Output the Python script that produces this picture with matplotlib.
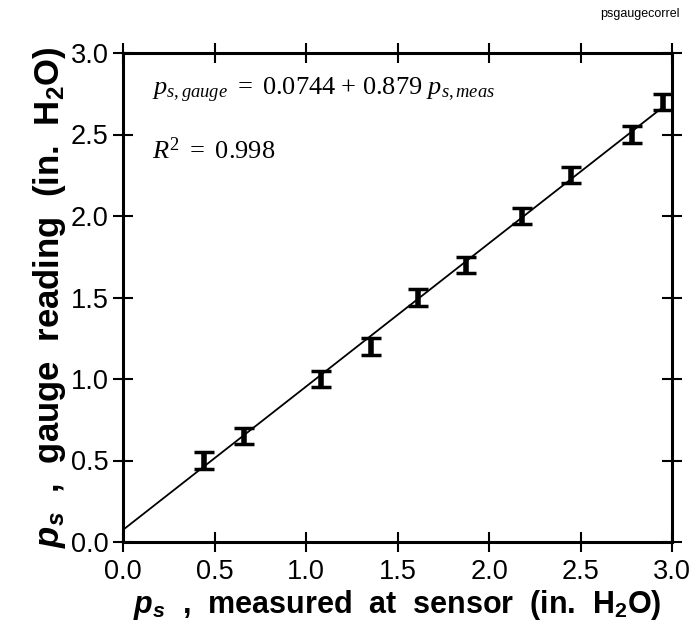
import matplotlib
matplotlib.use("Agg")
import matplotlib.pyplot as plt
import numpy as np

# Data
p_meas = [0.44, 0.66, 1.08, 1.355, 1.61, 1.875, 2.18, 2.45, 2.78, 2.95]
p_gauge = [0.50, 0.65, 1.00, 1.20, 1.50, 1.70, 2.00, 2.25, 2.50, 2.70]
err = [0.05] * len(p_meas)
intercept = 0.0744
slope = 0.879
xticks = [0.0, 0.5, 1.0, 1.5, 2.0, 2.5, 3.0]
yticks = [0.0, 0.5, 1.0, 1.5, 2.0, 2.5, 3.0]

plt.rcParams['mathtext.fontset'] = 'custom'
plt.rcParams['mathtext.rm'] = 'Liberation Serif'
plt.rcParams['mathtext.it'] = 'Liberation Serif:italic'
plt.rcParams['mathtext.bf'] = 'Liberation Sans:bold'
plt.rcParams['mathtext.bfit'] = 'Liberation Sans:bold:italic'
plt.rcParams['font.family'] = ['Liberation Sans', 'DejaVu Sans']

fig = plt.figure(figsize=(6.92, 6.31), dpi=100)
ax = fig.add_axes([123/692, 89/631, 549/692, 489/631])

xs = np.array([0.0, max(p_meas)])
ax.plot(xs, intercept + slope * xs, color='black', lw=1.3, zorder=2)
ax.errorbar(p_meas, p_gauge, yerr=err, fmt='none', ecolor='black',
            elinewidth=4, capsize=7.5, capthick=2.5, zorder=3)

ax.set_xlim(0, 3.0)
ax.set_ylim(0, 3.0)
ax.set_xticks(xticks)
ax.set_yticks(yticks)
ax.set_xticklabels([f"{t:.1f}" for t in xticks])
ax.set_yticklabels([f"{t:.1f}" for t in yticks])
for lab in ax.get_xticklabels() + ax.get_yticklabels():
    lab.set_fontsize(19.5)
ax.tick_params(direction='inout', length=15, width=1.5,
               top=True, right=True, pad=5)
ax.tick_params(axis='y', pad=3)
for s in ax.spines.values():
    s.set_linewidth(2.2)

ax.set_xlabel(r"$\mathbfit{p}_{\mathbfit{s}}$  ,  measured  at  sensor  (in.  H$_\mathbf{2}$O)",
              fontsize=22, fontweight='bold', labelpad=2)
ax.set_ylabel(r"$\mathbfit{p}_{\mathbfit{s}}$  ,  gauge  reading  (in.  H$_\mathbf{2}$O)",
              fontsize=25, fontweight='bold', labelpad=2)

ax.text(0.16, 2.77, r"$p_{s,gauge}\ {=}\ 0.0744\ {+}\ 0.879\ p_{s,meas}$",
        fontsize=19, ha='left', va='center')
ax.text(0.16, 2.40, r"$R^2\ {=}\ 0.998$", fontsize=19, ha='left', va='center')

fig.text(680/692, 1 - 14/631, "psgaugecorrel", fontsize=9, ha='right', va='center')

fig.savefig("out.png", dpi=100)
